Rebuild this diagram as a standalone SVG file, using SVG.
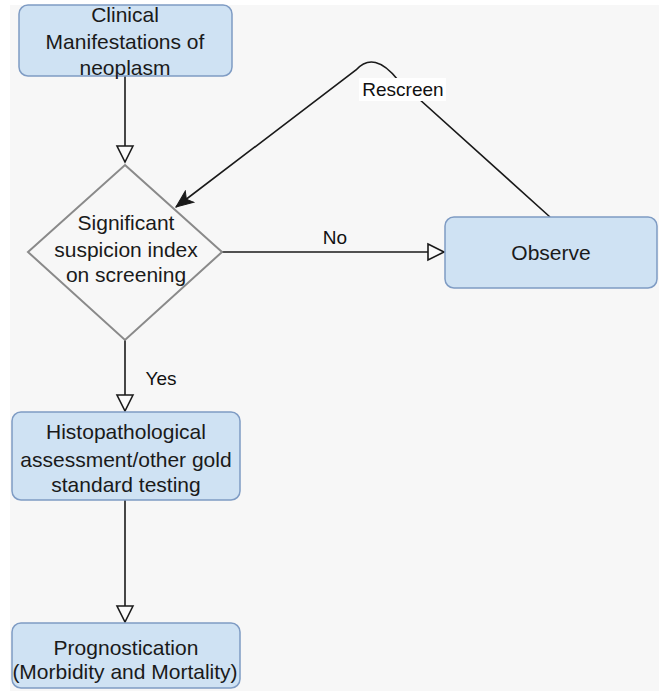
<svg xmlns="http://www.w3.org/2000/svg" width="659" height="691" viewBox="0 0 659 691">
<style>
.box{fill:#cfe2f3;stroke:#7f9cc4;stroke-width:1.5}
.t{font-family:"Liberation Sans",Arial,sans-serif;font-size:21px;fill:#1a1a1a;text-anchor:middle}
.lbl{font-family:"Liberation Sans",Arial,sans-serif;font-size:19px;fill:#111;text-anchor:middle}
.edge{fill:none;stroke:#1a1a1a;stroke-width:1.6}
</style>
<defs>
<marker id="open" viewBox="0 0 20 20" refX="18" refY="10" markerUnits="userSpaceOnUse" markerWidth="20" markerHeight="20" orient="auto">
<path d="M2,2 L18,10 L2,18 Z" fill="#fafafa" stroke="#1a1a1a" stroke-width="1.6"/>
</marker>
<marker id="filled" viewBox="0 0 20 20" refX="18" refY="10" markerUnits="userSpaceOnUse" markerWidth="20" markerHeight="20" orient="auto">
<path d="M1,3 L18,10 L1,17 L5,10 Z" fill="#1a1a1a" stroke="#1a1a1a" stroke-width="1"/>
</marker>
</defs>
<rect x="0" y="0" width="659" height="691" fill="#ffffff"/>
<rect x="10" y="5" width="649" height="686" fill="#f7f7f7"/>
<g id="connectors">
<path class="edge" d="M125,76 L125,162" marker-end="url(#open)"/>
<path class="edge" d="M222,252 L444,252" marker-end="url(#open)"/>
<path class="edge" d="M125,340 L125,411" marker-end="url(#open)"/>
<path class="edge" d="M125,500 L125,622" marker-end="url(#open)"/>
<path class="edge" d="M550,217 L398,80 Q374,50 356,70 L176,207" marker-end="url(#filled)"/>
<rect x="359" y="78" width="87" height="23" fill="#ffffff"/>
<text class="lbl" x="403" y="96">Rescreen</text>
<text class="lbl" x="335" y="244">No</text>
<text class="lbl" x="161" y="385">Yes</text>
</g>
<g id="clinical">
<rect class="box" x="19" y="5" width="213" height="71" rx="9"/>
<text class="t" x="125" y="22">Clinical</text>
<text class="t" x="125" y="49">Manifestations of</text>
<text class="t" x="125" y="75">neoplasm</text>
</g>
<g id="decision">
<polygon points="125,165 222,252 125,340 28,252" fill="#f7f7f7" stroke="#8a8a8a" stroke-width="2"/>
<text class="t" x="126" y="230">Significant</text>
<text class="t" x="126" y="257">suspicion index</text>
<text class="t" x="126" y="282">on screening</text>
</g>
<g id="observe">
<rect class="box" x="445" y="217" width="212" height="71" rx="9"/>
<text class="t" x="551" y="260">Observe</text>
</g>
<g id="histo">
<rect class="box" x="12" y="412" width="228" height="88" rx="9"/>
<text class="t" x="126" y="439">Histopathological</text>
<text class="t" x="126" y="467">assessment/other gold</text>
<text class="t" x="126" y="492">standard testing</text>
</g>
<g id="prognosis">
<rect class="box" x="12" y="623" width="228" height="65" rx="9"/>
<text class="t" x="126" y="655">Prognostication</text>
<text class="t" x="125" y="679">(Morbidity and Mortality)</text>
</g>
</svg>
